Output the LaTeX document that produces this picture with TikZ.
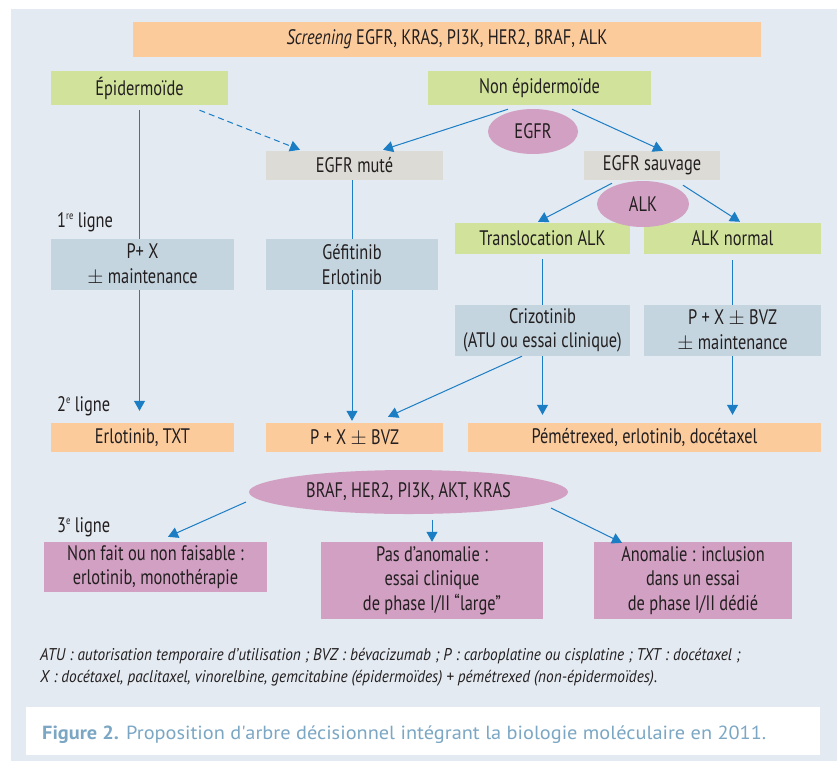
\documentclass[tikz,border=0pt]{standalone}
\usepackage{fontspec}
\setmainfont{PT Sans}
\newfontfamily\cond{PT Sans}[FakeStretch=0.78]
\newfontfamily\fcond{PT Sans}[FakeStretch=0.9]
\newfontfamily\capfont{PT Sans}[FakeStretch=1.07]
\usetikzlibrary{arrows.meta,shapes.geometric}
\definecolor{bgc}{HTML}{E3EAF1}
\definecolor{orng}{HTML}{FBCB9C}
\definecolor{grn}{HTML}{D1E39B}
\definecolor{gry}{HTML}{DDDBD6}
\definecolor{blg}{HTML}{C5D5DF}
\definecolor{pnk}{HTML}{D1A0C2}
\definecolor{arrc}{HTML}{1B7DC4}
\definecolor{capc}{HTML}{7BA7C4}
\definecolor{txt}{HTML}{231F20}
\newcommand\maintext{\cond\fontsize{21}{24.5}\selectfont}
\newcommand\foottext{\fcond\itshape\fontsize{17}{18}\selectfont}
\newcommand\captext{\capfont\fontsize{19}{20}\selectfont}
\newcommand\sups[1]{\raisebox{0.75ex}{\fontsize{11}{11}\selectfont #1}}
\tikzset{
  box/.style={rectangle, inner sep=0pt, align=center, font=\maintext, text=txt},
  oval/.style={ellipse, inner sep=0pt, fill=pnk, font=\maintext, text=txt},
  lbl/.style={anchor=base west, inner sep=0pt, font=\maintext, text=txt},
  conn/.style={draw=arrc, line width=1pt},
  arr/.style={conn, -{Triangle[width=11pt,length=10pt]}},
}
\begin{document}
\begin{tikzpicture}[x=1pt,y=-1pt]
\useasboundingbox (0,0) rectangle (837,761);
\fill[bgc] (11,9) rectangle (837,761);

% boxes
\node[box, fill=orng, minimum width=628pt, minimum height=35pt] (scr) at (447,39.5) {\textit{Screening} EGFR, KRAS, PI3K, HER2, BRAF, ALK};
\node[box, fill=grn, minimum width=177pt, minimum height=34pt] (epi) at (139.5,88) {Épidermoïde};
\node[box, fill=grn, minimum width=223pt, minimum height=34pt] (nonepi) at (539.5,88) {Non épidermoïde};
\node[box, fill=gry, minimum width=177pt, minimum height=29pt] (mute) at (354.5,165.5) {EGFR muté};
\node[box, fill=gry, minimum width=136pt, minimum height=29pt] (sauv) at (652,165.5) {EGFR sauvage};
\node[box, fill=grn, minimum width=175pt, minimum height=31pt] (transl) at (542.5,238.5) {Translocation ALK};
\node[box, fill=grn, minimum width=177pt, minimum height=31pt] (alkn) at (732.5,238.5) {ALK normal};
\node[box, fill=blg, minimum width=183pt, minimum height=51pt] (pxm) at (142.5,264.5) {P+ X\\$\pm$ maintenance};
\node[box, fill=blg, minimum width=172pt, minimum height=51pt] (gef) at (352,264.5) {Géfitinib\\Erlotinib};
\node[box, fill=blg, minimum width=175pt, minimum height=51pt] (criz) at (542.5,330.5) {Crizotinib\\(ATU ou essai clinique)};
\node[box, fill=blg, minimum width=177pt, minimum height=51pt] (pxbm) at (732.5,330.5) {P + X $\pm$ BVZ\\$\pm$ maintenance};
\node[box, fill=orng, minimum width=183pt, minimum height=29pt] (erl) at (142.5,437.5) {Erlotinib, TXT};
\node[box, fill=orng, minimum width=177pt, minimum height=29pt] (pxb) at (354.5,437.5) {P + X $\pm$ BVZ};
\node[box, fill=orng, minimum width=353pt, minimum height=29pt] (pem) at (644.5,437.5) {Pémétrexed, erlotinib, docétaxel};
\node[box, fill=pnk, minimum width=223pt, minimum height=50pt] (nonfait) at (155.5,567) {Non fait ou non faisable :\\erlotinib, monothérapie};
\node[box, fill=pnk, minimum width=222pt, minimum height=77pt] (pas) at (432,580.5) {Pas d’anomalie :\\essai clinique\\de phase I/II “large”};
\node[box, fill=pnk, minimum width=198pt, minimum height=77pt] (anom) at (693,580.5) {Anomalie : inclusion\\dans un essai\\de phase I/II dédié};

% labels
\node[lbl] (l1) at (57,227) {1\sups{re} ligne};
\node[lbl] (l2) at (57,411) {2\sups{e} ligne};
\node[lbl] (l3) at (57,532) {3\sups{e} ligne};

% connectors
\draw[conn] ([yshift=-5pt]epi.south) -- (epi.south |- pxm.north);
\draw[arr] (epi.south |- pxm.south) -- ([yshift=12pt]epi.south |- erl.north);
\draw[arr, dash pattern=on 6pt off 4pt] ([xshift=60pt,yshift=-5pt]epi.south) -- ([xshift=-54.5pt,yshift=1pt]mute.north);
\draw[arr] ([xshift=-31.5pt,yshift=-4pt]nonepi.south) -- ([xshift=28.5pt,yshift=1pt]mute.north);
\draw[arr] ([xshift=32.5pt,yshift=-4pt]nonepi.south) -- ([xshift=11pt]sauv.north);
\draw[conn] (gef.north |- mute.south) -- (gef.north);
\draw[arr] (gef.south) -- ([yshift=2pt]gef.south |- pxb.north);
\draw[arr] ([xshift=-40pt,yshift=-3pt]sauv.south) -- ([xshift=-4.5pt,yshift=1pt]transl.north);
\draw[arr] ([xshift=31pt,yshift=-5pt]sauv.south) -- ([xshift=7.5pt,yshift=1pt]alkn.north);
\draw[conn] ([yshift=-5pt]transl.south) -- (transl.south |- criz.north);
\draw[conn] ([yshift=-6pt]alkn.south) -- (alkn.south |- pxbm.north);
\draw[arr] (criz.south) -- ([yshift=8pt]criz.south |- pem.north);
\draw[arr] (pxbm.south) -- ([yshift=8pt]pxbm.south |- pem.north);
\draw[arr] ([xshift=-20.5pt]criz.south) -- ([xshift=33.5pt,yshift=6pt]pxb.north);

% ellipses
\node[oval, minimum width=90pt, minimum height=45pt] (egfr) at (533,131.5) {EGFR};
\node[oval, minimum width=92pt, minimum height=46pt] (alk) at (643,204) {ALK};
\node[oval, minimum width=319pt, minimum height=44pt] (braf) at (408.5,492) {BRAF, HER2, PI3K, AKT, KRAS};

\draw[arr] ([xshift=-162.5pt,yshift=-10pt]braf.center) -- ([xshift=12.5pt,yshift=5pt]nonfait.north);
\draw[arr] ([yshift=22pt]pas.north) -- (pas.north);
\draw[arr] ([xshift=142.5pt,yshift=-16pt]braf.center) -- ([xshift=-71pt,yshift=-1pt]anom.north);

% footnotes
\node[anchor=base west, inner sep=0pt, font=\foottext, text=txt] (fn1) at (40,660) {ATU : autorisation temporaire d’utilisation ; BVZ : bévacizumab ; P : carboplatine ou cisplatine ; TXT : docétaxel ;};
\node[anchor=base west, inner sep=0pt, font=\foottext, text=txt] (fn2) at (40,682) {X : docétaxel, paclitaxel, vinorelbine, gemcitabine (épidermoïdes) + pémétrexed (non-épidermoïdes).};

% caption
\node[rectangle, fill=white, inner sep=0pt, minimum width=794pt, minimum height=48pt] (capbox) at (423,731) {};
\node[anchor=base west, inner sep=0pt, font=\captext, text=capc] (cap) at (42,739) {\textbf{Figure 2.} Proposition d\textquotesingle arbre décisionnel intégrant la biologie moléculaire en 2011.};
\end{tikzpicture}
\end{document}
